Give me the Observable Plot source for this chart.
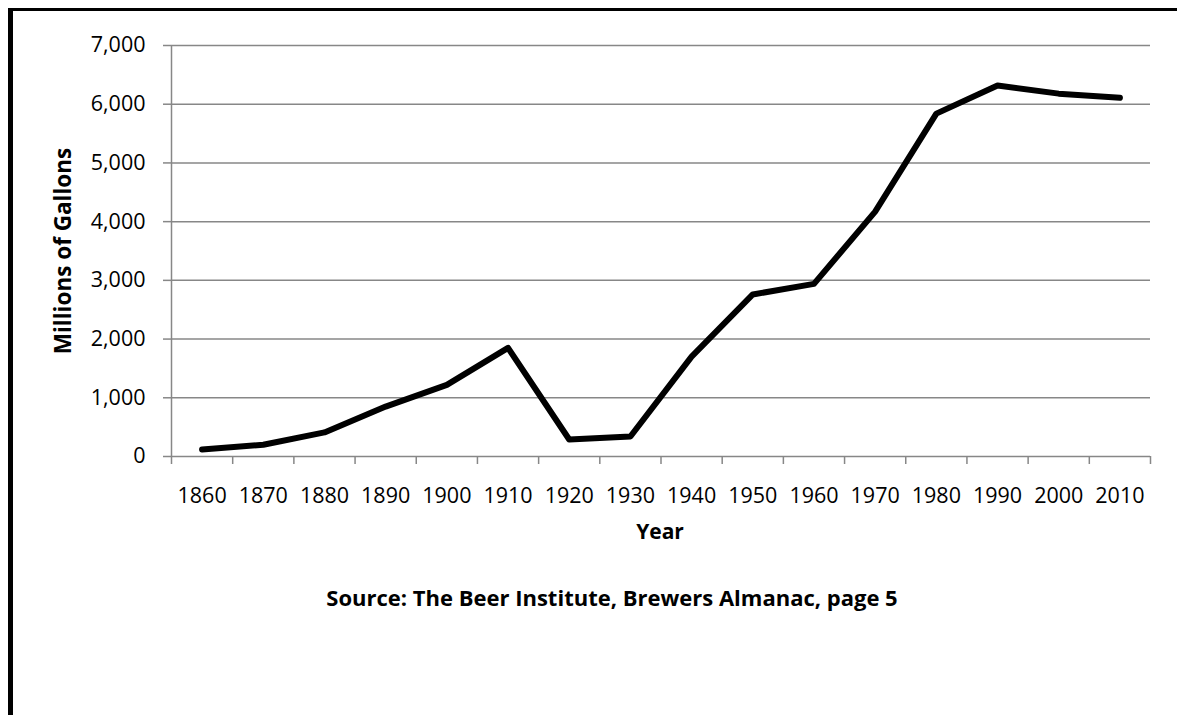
<!DOCTYPE html>
<html><head><meta charset="utf-8">
<script src="https://cdn.jsdelivr.net/npm/d3@7"></script>
<script src="https://cdn.jsdelivr.net/npm/@observablehq/plot@0.6"></script>
<style>
html,body{margin:0;padding:0;background:#fff;}
#wrap{position:relative;width:1177px;height:715px;overflow:hidden;background:#fff;font-family:"Open Sans",sans-serif;color:#000;}
#frame{position:absolute;left:8px;top:8px;width:2000px;height:2000px;border-left:5px solid #000;border-top:3px solid #000;box-sizing:border-box;}
#chart{position:absolute;left:0;top:0;}
.t{position:absolute;font-weight:bold;white-space:nowrap;transform:translate(-50%,-50%);}
#ytitle{left:62px;top:251px;font-size:22.5px;transform:translate(-50%,-50%) rotate(-90deg);}
#xtitle{left:660px;top:531px;font-size:21px;}
#source{left:612px;top:597px;font-size:22px;}
</style>
</head><body>
<div id="wrap">
  <div id="frame"></div>
  <div id="chart"></div>
  <div class="t" id="ytitle">Millions of Gallons</div>
  <div class="t" id="xtitle">Year</div>
  <div class="t" id="source">Source: The Beer Institute, Brewers Almanac, page 5</div>
</div>
<script>
const years = [1860,1870,1880,1890,1900,1910,1920,1930,1940,1950,1960,1970,1980,1990,2000,2010];
const gallons = [120,200,410,850,1220,1850,290,340,1700,2760,2940,4170,5840,6320,6180,6110];
const yTicks = [0,1000,2000,3000,4000,5000,6000,7000];

const data = years.map((y,i)=>({year:y, value:gallons[i]}));
const boundaries = years.map(y=>y-5).concat([years[years.length-1]+5]);
const gridColor = "#878787";
const labelSize = 21.5;

const chart = Plot.plot({
  width: 1177,
  height: 520,
  marginLeft: 171,
  marginRight: 27,
  marginTop: 45,
  marginBottom: 64,
  style: {fontFamily: '"Open Sans", sans-serif', fontSize: labelSize + "px", color: "#000", background: "transparent", overflow: "visible"},
  x: {domain: [boundaries[0], boundaries[boundaries.length-1]], axis: null},
  y: {domain: [0, 7000], axis: null},
  marks: [
    Plot.ruleY(yTicks, {stroke: gridColor, strokeWidth: 1.5}),
    Plot.ruleX([boundaries[0]], {y1: 0, y2: 7000, stroke: gridColor, strokeWidth: 1.5}),
    Plot.axisY({ticks: yTicks, tickSize: 8, tickPadding: 18, stroke: gridColor, strokeWidth: 1.5, strokeOpacity: 1, tickFormat: d3.format(","), label: null, fill: "#000", fontSize: labelSize}),
    Plot.axisX({ticks: boundaries, tickSize: 8, tickFormat: () => "", stroke: gridColor, strokeWidth: 1.5, strokeOpacity: 1, label: null}),
    Plot.axisX({ticks: years, tickSize: 0, tickPadding: 31, tickFormat: d => String(d), label: null, fill: "#000", fontSize: labelSize}),
    Plot.line(data, {x: "year", y: "value", stroke: "#000", strokeWidth: 6, strokeLinecap: "round", strokeLinejoin: "round"})
  ]
});
document.getElementById("chart").appendChild(chart);
</script>
</body></html>
